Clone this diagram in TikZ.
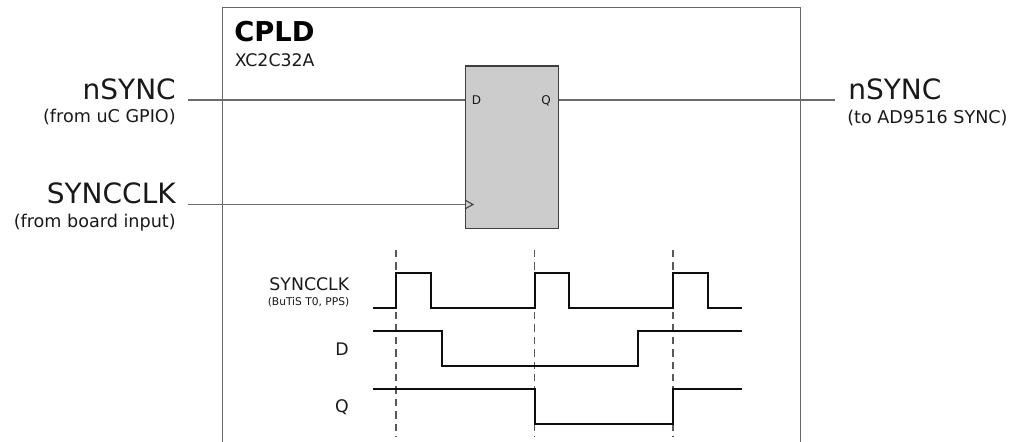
\documentclass[tikz,border=0pt]{standalone}
\usepackage{fontspec}
\setmainfont{DejaVu Sans}
\definecolor{txt}{gray}{0.1}
\definecolor{wire}{gray}{0.42}
\tikzset{
  wire/.style={draw=wire,line width=0.8pt},
  frame/.style={draw=black!60,line width=1.05pt},
  ffbox/.style={draw=black!75,fill=black!20,line width=1pt,minimum width=69.75pt,minimum height=121.9pt,inner sep=0pt},
  wave/.style={draw=black!95,line width=1.5pt,line join=miter},
  guide/.style={draw=black!65,line width=0.8pt,dash pattern=on 5.5pt off 3.8pt},
  lbl/.style={inner sep=0pt,text=txt,align=right},
  sig/.style={lbl,font=\fontsize{21}{25}\selectfont,anchor=base east},
  sub/.style={lbl,font=\fontsize{13.2}{16}\selectfont,anchor=base east},
  pin/.style={lbl,font=\fontsize{9}{10}\selectfont},
  tname/.style={lbl,font=\fontsize{13}{15}\selectfont,anchor=base east},
}
\begin{document}
\begin{tikzpicture}[x=0.75pt,y=-0.75pt]
\useasboundingbox (0,0) rectangle (1010,442);
% CPLD frame, open at the bottom
\draw[frame] (222.5,442) -- (222.5,7.5) -- (800.5,7.5) -- (800.5,442);
\node[inner sep=0pt,anchor=base west,text=black,font=\bfseries\fontsize{20.5}{24}\selectfont] (title) at (234,42) {CPLD};
\node[inner sep=0pt,anchor=base west,text=txt,font=\fontsize{13}{15}\selectfont] (part) at (234.5,66.5) {XC2C32A};
% Flip-flop
\node[ffbox,anchor=north west] (ff) at (465,65.3) {};
\node[pin] (d) at (476.5,100.5) {D};
\node[pin] (q) at (546,100.5) {Q};
\coordinate (inD) at (188,100);
\coordinate (inC) at (188,204.5);
\coordinate (outQ) at (834.5,100);
\coordinate (pinD) at (ff.west |- inD);
\coordinate (pinC) at (ff.west |- inC);
\coordinate (pinQ) at (ff.east |- outQ);
\draw[wire] (inD) -- (pinD);
\draw[wire] (inC) -- (pinC);
\draw[wire] (pinQ) -- (outQ);
\draw[wire,draw=black!75,line join=miter] ([yshift=3.3pt]pinC) -- ([xshift=6pt]pinC) -- ([yshift=-3.3pt]pinC);
% Port labels
\node[sig] (l1) at (176,100) {nSYNC};
\node[sub] (l1s) at (176,123) {(from uC GPIO)};
\node[sig] (l2) at (176,204) {SYNCCLK};
\node[sub] (l2s) at (176,228) {(from board input)};
\node[sig,anchor=base west] (r1) at (848,100) {nSYNC};
\node[sub,anchor=base west] (r1s) at (847,123.5) {(to AD9516 SYNC)};
% Timing labels
\node[tname] (t1) at (349.5,290) {SYNCCLK};
\node[lbl,anchor=base east,font=\fontsize{8}{9}\selectfont] (t1s) at (349.5,305) {(BuTiS T0, PPS)};
\node[tname] (t2) at (349,355) {D};
\node[tname] (t3) at (349,412) {Q};
% Dashed guides
\draw[guide] (396,250) -- (396,437);
\draw[guide] (534.2,250) -- (534.2,437);
\draw[guide] (673,250) -- (673,437);
% Waves
\draw[wave] (373,308) -- (396,308) -- (396,273) -- (430.5,273) -- (430.5,308) -- (534.5,308) -- (534.5,273) -- (569,273) -- (569,308) -- (673,308) -- (673,273) -- (708,273) -- (708,308) -- (742,308);
\draw[wave] (373,331) -- (442,331) -- (442,366) -- (638,366) -- (638,331) -- (742,331);
\draw[wave] (373,389) -- (534.5,389) -- (534.5,424) -- (673,424) -- (673,389) -- (742,389);
\end{tikzpicture}
\end{document}
